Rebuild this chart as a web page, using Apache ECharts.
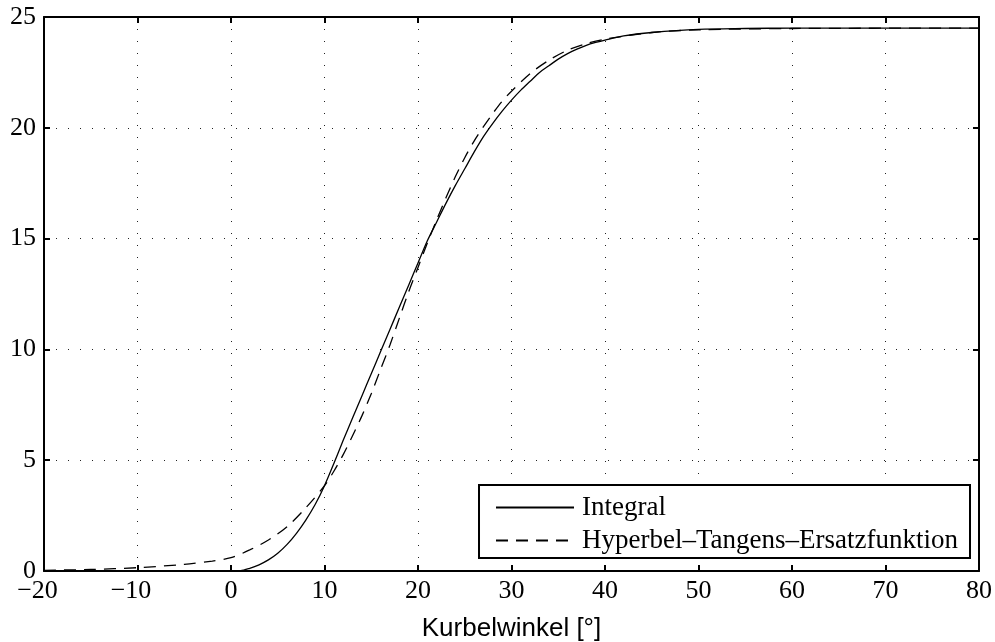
<!DOCTYPE html>
<html>
<head>
<meta charset="utf-8">
<script src="https://cdn.jsdelivr.net/npm/echarts@6/dist/echarts.min.js"></script>
<style>html,body{margin:0;padding:0;background:#fff;}#c{width:995px;height:642px;}</style>
</head>
<body>
<div id="c"></div>
<script>
const seriesNames = ['Integral', 'Hyperbel\u2013Tangens\u2013Ersatzfunktion'];
const xTicks = [-20, -10, 0, 10, 20, 30, 40, 50, 60, 70, 80];
const yTicks = [0, 5, 10, 15, 20, 25];

const integralX = [-20, -10, 0, 1, 2, 3, 4, 5, 6, 7, 8, 9, 10, 11, 12, 13, 14, 15, 16, 17, 18, 19, 20, 21, 22, 23, 24, 25, 26, 27, 28, 29, 30, 31, 32, 33, 34, 35, 36, 37, 38, 39, 40, 42, 45, 50, 55, 60, 70, 80];
const integralY = [0, 0, 0, 0.01, 0.12, 0.28, 0.5, 0.8, 1.2, 1.7, 2.3, 3.0, 3.85, 4.85, 5.9, 6.9, 7.9, 8.9, 9.9, 10.9, 11.9, 12.9, 13.9, 14.9, 15.75, 16.6, 17.4, 18.15, 18.9, 19.6, 20.2, 20.75, 21.25, 21.7, 22.1, 22.5, 22.8, 23.1, 23.35, 23.55, 23.72, 23.85, 23.96, 24.15, 24.3, 24.44, 24.48, 24.5, 24.5, 24.5];

const tanhX = [-20, -15, -10, -5, -2, 0, 2, 4, 6, 8, 10, 11, 12, 13, 14, 15, 16, 17, 18, 19, 20, 21, 22, 23, 24, 25, 26, 27, 28, 29, 30, 32, 34, 36, 38, 40, 45, 50, 60, 80];
const tanhY = [0.03, 0.07, 0.15, 0.3, 0.45, 0.6, 0.95, 1.4, 2.0, 2.85, 3.85, 4.5, 5.25, 6.1, 7.0, 8.0, 9.1, 10.2, 11.4, 12.6, 13.7, 14.8, 15.85, 16.85, 17.8, 18.65, 19.4, 20.05, 20.65, 21.2, 21.65, 22.45, 23.05, 23.5, 23.8, 24.0, 24.3, 24.42, 24.48, 24.5];

const pairs = (xs, ys) => xs.map((x, i) => [x, ys[i]]);
const serif = 'Liberation Serif';
const minusFmt = v => v < 0 ? '\u2212' + Math.abs(v) + '\u2002' : String(v);

const gridLine = { show: true, lineStyle: { color: '#222', width: 1, type: [1, 11] } };
const frame = { show: true, onZero: false, lineStyle: { color: '#000', width: 2 } };
const tick = { show: true, inside: true, length: 6, lineStyle: { color: '#000', width: 2 } };

const chart = echarts.init(document.getElementById('c'));
chart.setOption({
  animation: false,
  backgroundColor: '#fff',
  grid: { left: 44, right: 16, top: 17, bottom: 71, containLabel: false, outerBoundsMode: 'none' },
  xAxis: [{
    type: 'value', min: -20, max: 80, interval: 10, position: 'bottom',
    axisLine: frame, axisTick: tick, splitLine: gridLine,
    axisLabel: { formatter: minusFmt, fontFamily: serif, fontSize: 26, color: '#000', margin: 7 },
    name: 'Kurbelwinkel [\u00b0]', nameLocation: 'middle', nameGap: 45,
    nameTextStyle: { fontFamily: 'Liberation Sans', fontSize: 26, color: '#000' }
  }, {
    type: 'value', min: -20, max: 80, interval: 10, position: 'top',
    axisLine: frame, axisTick: tick, splitLine: { show: false }, axisLabel: { show: false }
  }],
  yAxis: [{
    type: 'value', min: 0, max: 25, interval: 5, position: 'left',
    axisLine: frame, axisTick: tick, splitLine: gridLine,
    axisLabel: { fontFamily: serif, fontSize: 26, color: '#000', margin: 8 }
  }, {
    type: 'value', min: 0, max: 25, interval: 5, position: 'right',
    axisLine: frame, axisTick: tick, splitLine: { show: false }, axisLabel: { show: false }
  }],
  legend: {
    orient: 'vertical', right: 25, bottom: 84,
    backgroundColor: '#fff', borderColor: '#000', borderWidth: 2,
    padding: [9, 12, 4, 16], itemGap: 6, itemWidth: 78, itemHeight: 14,
    itemStyle: { opacity: 0 },
    textStyle: { fontFamily: serif, fontSize: 27, color: '#000', padding: [0, 0, 0, 3] },
    data: seriesNames
  },
  series: [{
    name: seriesNames[0], type: 'line', symbol: 'none', smooth: 0.3,
    lineStyle: { color: '#000', width: 1.3, type: 'solid' },
    itemStyle: { color: '#000' },
    data: pairs(integralX, integralY), z: 3
  }, {
    name: seriesNames[1], type: 'line', symbol: 'none', smooth: 0.3,
    lineStyle: { color: '#000', width: 1.3, type: [12, 8] },
    itemStyle: { color: '#000' },
    data: pairs(tanhX, tanhY), z: 3
  }]
});
</script>
</body>
</html>
